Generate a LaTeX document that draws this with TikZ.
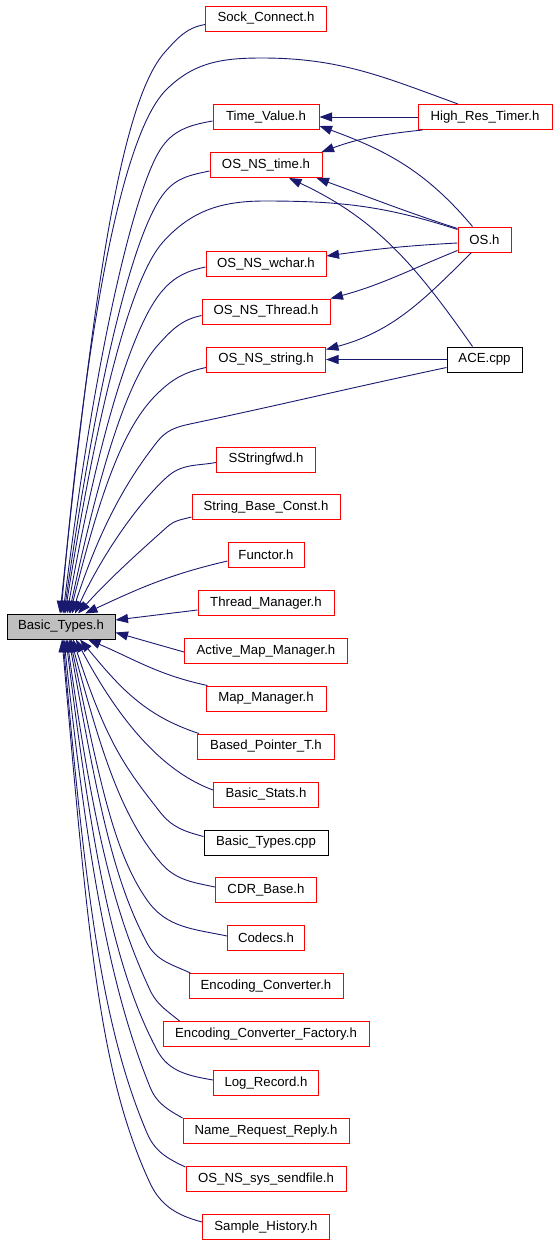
\documentclass[tikz,border=0pt]{standalone}
\usepackage{fontspec}
\setmainfont{Liberation Sans}
\usetikzlibrary{arrows.meta}
\definecolor{edgec}{RGB}{25,25,112}
\definecolor{boxred}{RGB}{255,0,0}
\definecolor{btgray}{RGB}{191,191,191}
\begin{document}
\begin{tikzpicture}[x=1pt,y=1pt,
  box/.style={draw=boxred, line width=1pt, fill=white, minimum height=25pt, inner sep=0pt, font=\fontsize{13.2}{15}\selectfont},
  bbox/.style={box, draw=black},
  edge/.style={draw=edgec, line width=0.9pt, -{Triangle[length=12.5pt,width=9pt]}}]
\useasboundingbox (0,0) rectangle (555,-1243);
% right column
\node[box, minimum width=134pt] (hrt) at (485,-117) {High\_Res\_Timer.h};
\node[box, minimum width=53pt] (os) at (484.5,-239.5) {OS.h};
\node[bbox, minimum width=75pt] (ace) at (484.5,-359.5) {ACE.cpp};
% middle column
\node[box, minimum width=121pt] (sock) at (266,-18.5) {Sock\_Connect.h};
\node[box, minimum width=106pt] (tv) at (266,-117) {Time\_Value.h};
\node[box, minimum width=112pt] (ost) at (266,-165) {OS\_NS\_time.h};
\node[box, minimum width=120pt] (wchar) at (266,-264) {OS\_NS\_wchar.h};
\node[box, minimum width=128pt] (thr) at (266,-311.5) {OS\_NS\_Thread.h};
\node[box, minimum width=119pt] (str) at (266,-359.5) {OS\_NS\_string.h};
\node[box, minimum width=99pt] (ssf) at (266,-459.5) {SStringfwd.h};
\node[box, minimum width=148pt] (sbc) at (266,-507) {String\_Base\_Const.h};
\node[box, minimum width=76pt] (fun) at (266,-555) {Functor.h};
\node[box, minimum width=136pt] (tm) at (266,-603) {Thread\_Manager.h};
\node[box, minimum width=163pt] (amm) at (266,-651) {Active\_Map\_Manager.h};
\node[box, minimum width=120pt] (mm) at (266,-698.5) {Map\_Manager.h};
\node[box, minimum width=137pt] (bpt) at (266,-746.5) {Based\_Pointer\_T.h};
\node[box, minimum width=105pt] (bs) at (266,-794.5) {Basic\_Stats.h};
\node[bbox, minimum width=124pt] (btc) at (266,-842.5) {Basic\_Types.cpp};
\node[box, minimum width=101pt] (cdr) at (266,-890) {CDR\_Base.h};
\node[box, minimum width=77pt] (cod) at (266,-938) {Codecs.h};
\node[box, minimum width=154pt] (ec) at (266,-986) {Encoding\_Converter.h};
\node[box, minimum width=206pt] (ecf) at (266,-1034) {Encoding\_Converter\_Factory.h};
\node[box, minimum width=105pt] (lr) at (266,-1083) {Log\_Record.h};
\node[box, minimum width=166pt] (nrr) at (266,-1131) {Name\_Request\_Reply.h};
\node[box, minimum width=160pt] (sf) at (266,-1179) {OS\_NS\_sys\_sendfile.h};
\node[box, minimum width=127pt] (sh) at (266,-1227) {Sample\_History.h};
% focus node
\node[bbox, fill=btgray, minimum width=108pt] (bt) at (61,-626.5) {Basic\_Types.h};

% edges among right and middle columns
\draw[edge] (hrt.west) -- (tv.east);
\draw[edge] ([xshift=5pt]hrt.south west) to[out=186,in=20] ([xshift=-1pt]ost.north east);
\draw[edge] ([xshift=-12pt]os.north) to[out=130,in=-20] ([yshift=4pt]tv.south east);
\draw[edge] ([yshift=-2pt]os.north west) to[out=162,in=-20] ([xshift=-6pt]ost.south east);
\draw[edge] ([yshift=-3.5pt]os.west) to[out=183,in=8] ([yshift=8pt]wchar.east);
\draw[edge] ([yshift=-11pt]os.west) to[out=202,in=15] (thr.north east);
\draw[edge] ([xshift=-13pt]os.south) to[out=225,in=15] ([yshift=-3pt]str.north east);
\draw[edge] (ace.west) -- (str.east);
\draw[edge] ([xshift=-12pt]ace.north) to[out=125,in=-25] ([xshift=23pt]ost.south);

% edges into Basic_Types.h from above
\draw[edge] ([yshift=-6pt]sock.west) to[out=190,in=48] (165,-52)
  to[out=228,in=84,out distance=70pt,in distance=300pt] ([xshift=-1pt]bt.north);
\draw[edge] ([xshift=-27pt]hrt.north) to[out=160,in=0] (262,-58) to[out=180,in=45] (166,-90)
  to[out=225,in=85,out distance=60pt,in distance=300pt] (bt.north);
\draw[edge] ([yshift=-4pt]tv.west) to[out=190,in=58] (160,-150)
  to[out=238,in=83,out distance=50pt,in distance=260pt] ([xshift=2pt]bt.north);
\draw[edge] ([yshift=-6pt]ost.west) to[out=192,in=50] (165,-192)
  to[out=230,in=82,out distance=50pt,in distance=230pt] ([xshift=3pt]bt.north);
\draw[edge] ([yshift=10pt]os.west) to[out=162,in=0] (265,-201) to[out=180,in=48] (163,-242)
  to[out=228,in=81,out distance=50pt,in distance=200pt] ([xshift=4pt]bt.north);
\draw[edge] ([yshift=-3pt]wchar.west) to[out=192,in=48] (163,-290)
  to[out=228,in=80,out distance=45pt,in distance=180pt] ([xshift=6pt]bt.north);
\draw[edge] ([yshift=-4pt]thr.west) to[out=192,in=48] (158,-345)
  to[out=228,in=78,out distance=45pt,in distance=150pt] ([xshift=8pt]bt.north);
\draw[edge] ([yshift=-8pt]str.west) to[out=192,in=45] (156,-395)
  to[out=225,in=76,out distance=45pt,in distance=130pt] ([xshift=9pt]bt.north);
\draw[edge] ([yshift=-8pt]ace.west) to[out=192,in=12] (190,-424) to[out=192,in=52] (157,-442)
  to[out=232,in=72,out distance=40pt,in distance=100pt] ([xshift=11pt]bt.north);
\draw[edge] ([yshift=-3pt]ssf.west) to[out=190,in=42] (167,-477)
  to[out=222,in=65,out distance=35pt,in distance=70pt] ([xshift=14pt]bt.north);
\draw[edge] ([yshift=-10pt]sbc.west) to[out=195,in=42] (167,-527)
  to[out=222,in=48,out distance=30pt,in distance=50pt] ([xshift=17pt]bt.north);
\draw[edge] ([yshift=-6pt]fun.west) to[out=193,in=25] ([xshift=24pt]bt.north);
\draw[edge] ([yshift=-7pt]tm.west) -- ([yshift=6.5pt]bt.east);
\draw[edge] ([yshift=-1pt]amm.west) -- ([yshift=-6pt]bt.east);

% edges into Basic_Types.h from below
\draw[edge] ([xshift=2pt]mm.north west) to[out=168,in=-23] ([xshift=27pt]bt.south);
\draw[edge] ([xshift=2pt]bpt.north west) to[out=162,in=-50] ([xshift=19pt]bt.south);
\draw[edge] ([yshift=4.5pt]bs.west) to[out=160,in=-62,out distance=60pt,in distance=80pt] ([xshift=15pt]bt.south);
\draw[edge] ([yshift=6pt]btc.west) to[out=165,in=-52] (160,-812)
  to[out=128,in=-72,out distance=55pt,in distance=110pt] ([xshift=12pt]bt.south);
\draw[edge] ([yshift=3pt]cdr.west) to[out=168,in=-50] (160,-862)
  to[out=130,in=-75,out distance=60pt,in distance=120pt] ([xshift=10pt]bt.south);
\draw[edge] ([yshift=2pt]cod.west) to[out=168,in=-55] (147,-900)
  to[out=125,in=-78,out distance=60pt,in distance=140pt] ([xshift=9pt]bt.south);
\draw[edge] ([xshift=2pt]ec.north west) to[out=155,in=-62] (147,-943)
  to[out=118,in=-80,out distance=70pt,in distance=170pt] ([xshift=8pt]bt.south);
\draw[edge] ([xshift=17pt]ecf.north west) to[out=140,in=-65] (150,-990)
  to[out=115,in=-82,out distance=80pt,in distance=200pt] ([xshift=6pt]bt.south);
\draw[edge] ([yshift=3pt]lr.west) to[out=170,in=-62] (157,-1050)
  to[out=118,in=-83,out distance=90pt,in distance=220pt] ([xshift=5pt]bt.south);
\draw[edge] ([xshift=0pt]nrr.north west) to[out=150,in=-68] (150,-1087)
  to[out=112,in=-84,out distance=100pt,in distance=240pt] ([xshift=3pt]bt.south);
\draw[edge] ([yshift=-1pt]sf.north west) to[out=155,in=-67] (147,-1133)
  to[out=113,in=-85,out distance=110pt,in distance=270pt] ([xshift=2pt]bt.south);
\draw[edge] ([yshift=5pt]sh.west) to[out=165,in=-65] (150,-1183)
  to[out=115,in=-85,out distance=120pt,in distance=300pt] ([xshift=1pt]bt.south);
\end{tikzpicture}
\end{document}
